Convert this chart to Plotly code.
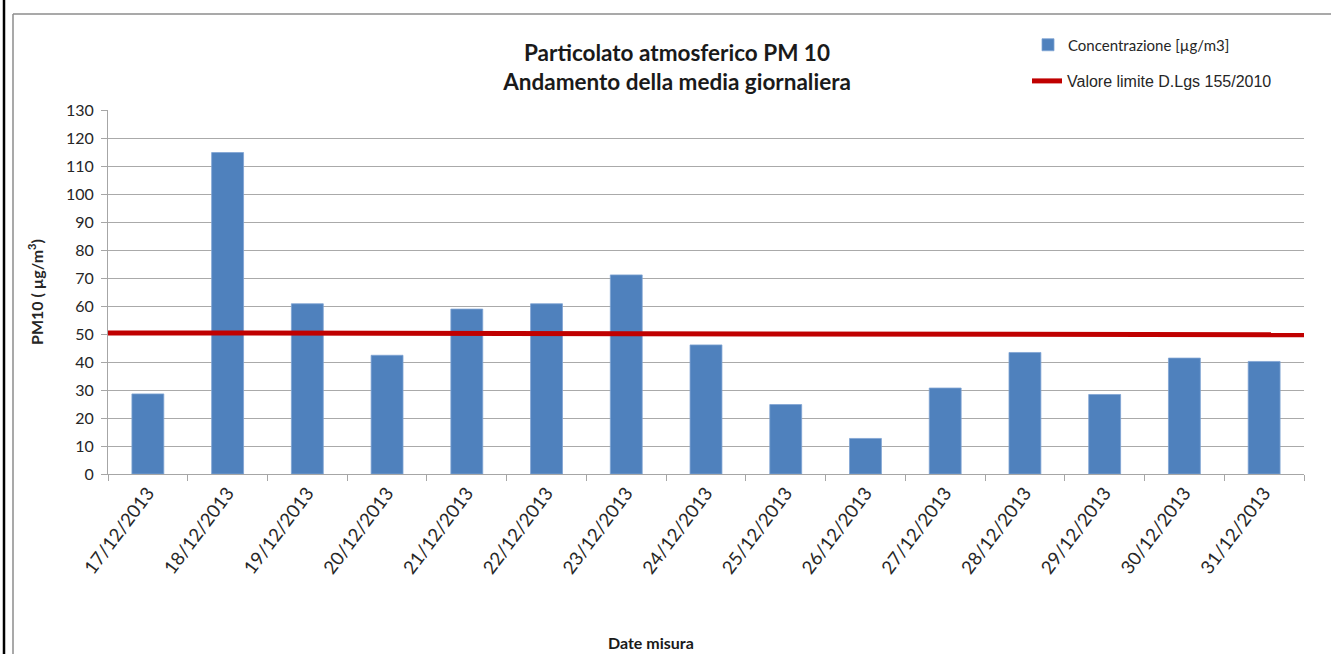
import plotly.graph_objects as go

dates = ["17/12/2013", "18/12/2013", "19/12/2013", "20/12/2013", "21/12/2013",
         "22/12/2013", "23/12/2013", "24/12/2013", "25/12/2013", "26/12/2013",
         "27/12/2013", "28/12/2013", "29/12/2013", "30/12/2013", "31/12/2013"]
concentrazione = [28.6, 114.8, 60.8, 42.4, 58.9, 60.8, 71.1, 46.1, 24.8, 12.7,
                  30.7, 43.4, 28.4, 41.4, 40.2]
limite_x = [0, 1]
limite_y = [50.4, 49.7]
y_ticks = list(range(0, 131, 10))

W, H = 1331, 654
L, R, T, B = 108, 1304, 110, 474


def px(x):
    return (x - L) / (R - L)


def py(y):
    return (B - y) / (B - T)


fig = go.Figure()
fig.add_trace(go.Bar(
    x=dates, y=concentrazione, name="Concentrazione [µg/m3]",
    marker=dict(color="#4f81bd", line=dict(color="#7fa3d3", width=0.8)),
    width=0.4, legend="legend", showlegend=True,
))
fig.add_trace(go.Scatter(
    x=limite_x, y=limite_y, xaxis="x2", mode="lines",
    name="Valore limite D.Lgs 155/2010",
    line=dict(color="#c00000", width=5), legend="legend2", showlegend=True,
))

fig.update_layout(
    width=W, height=H,
    margin=dict(l=L, r=W - R, t=T, b=H - B, autoexpand=False),
    paper_bgcolor="white", plot_bgcolor="white",
    font=dict(family="Lato, sans-serif", color="#262626"),
    title=dict(
        text="<b>Particolato atmosferico PM 10<br>Andamento della media giornaliera</b>",
        x=677 / W, xref="container", xanchor="center",
        y=1 - 61 / H, yref="container", yanchor="middle",
        font=dict(size=22.5, family="Lato, sans-serif", color="#1a1a1a"),
    ),
    bargap=0.6,
    xaxis=dict(
        type="category", tickson="boundaries", ticks="outside", ticklen=6,
        tickcolor="#a6a6a6", showline=True, linecolor="#a6a6a6", linewidth=1,
        showgrid=False, tickangle=-53, tickfont=dict(size=18.5),
        range=[-0.5, len(dates) - 0.5],
    ),
    xaxis2=dict(overlaying="x", range=[0, 1], visible=False, fixedrange=True),
    yaxis=dict(
        range=[0, 130], tickvals=y_ticks, ticks="outside", ticklen=6,
        tickcolor="#a6a6a6", showline=True, linecolor="#a6a6a6", linewidth=1,
        showgrid=True, gridcolor="#aaaaaa", gridwidth=1.3,
        zeroline=False, tickfont=dict(size=16), ticklabelstandoff=4,
        title=dict(text="<b>PM10 ( µg/m<sup>3</sup>)</b>", standoff=18,
                   font=dict(size=16)),
    ),
    legend=dict(
        xref="container", yref="container", x=1028 / W, y=1 - 45 / H,
        xanchor="left", yanchor="middle", bgcolor="rgba(0,0,0,0)",
        font=dict(size=15, family="Lato, sans-serif", color="#262626"),
    ),
    legend2=dict(
        xref="container", yref="container", x=1027 / W, y=1 - 81 / H,
        xanchor="left", yanchor="middle", bgcolor="rgba(0,0,0,0)",
        font=dict(size=16, family="Liberation Sans, Arial, sans-serif", color="#262626"),
    ),
    annotations=[dict(
        text="<b>Date misura</b>", xref="paper", yref="paper",
        x=px(651), y=py(642), xanchor="center", yanchor="middle",
        showarrow=False, font=dict(size=16, color="#1a1a1a"),
    )],
    shapes=[
        dict(type="line", xref="paper", yref="paper",
             x0=px(4), x1=px(4), y0=py(0), y1=py(H + 5),
             line=dict(color="black", width=2.5)),
        dict(type="line", xref="paper", yref="paper",
             x0=px(13), x1=px(W + 5), y0=py(14), y1=py(14),
             line=dict(color="#8c8c8c", width=1.5)),
        dict(type="line", xref="paper", yref="paper",
             x0=px(13), x1=px(13), y0=py(14), y1=py(H + 5),
             line=dict(color="#8c8c8c", width=1.5)),
    ],
)

fig.write_html(
    "out.html",
    config={"displayModeBar": False},
    post_script="document.body.style.margin='0px';document.body.style.overflow='hidden';",
)
